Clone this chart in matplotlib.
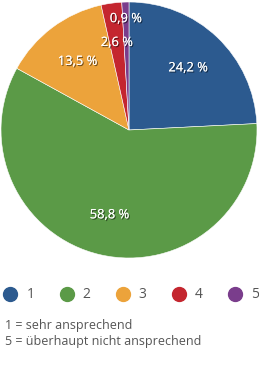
import matplotlib
matplotlib.use("Agg")
import numpy as np
import matplotlib.pyplot as plt
import matplotlib.patheffects as pe
from matplotlib.lines import Line2D

CATEGORIES = ["1", "2", "3", "4", "5"]
SHARES = [24.2, 58.8, 13.5, 2.6, 0.9]
LABELS = ["24,2 %", "58,8 %", "13,5 %", "2,6 %", "0,9 %"]
COLORS = ["#2c5a8f", "#5b9a47", "#eca33b", "#c4262f", "#7a3d8c"]
LABEL_DIST = [0.67, 0.68, 0.67, 0.69, 0.87]
NOTES = ["1 = sehr ansprechend", "5 = überhaupt nicht ansprechend"]

plt.rcParams["font.family"] = ["Open Sans", "DejaVu Sans"]

W, H = 259, 366
fig = plt.figure(figsize=(W / 100, H / 100), dpi=100)
ax = fig.add_axes([1 / W, 1 - 258 / H, 256 / W, 256 / H])

wedges, _ = ax.pie(SHARES, colors=COLORS, startangle=90, counterclock=False,
                   wedgeprops=dict(edgecolor="white", linewidth=0.4))
ax.set_xlim(-1, 1)
ax.set_ylim(-1, 1)
ax.set_aspect("equal")
ax.axis("off")

shadow = [pe.withSimplePatchShadow(offset=(0.8, -0.8), shadow_rgbFace="black", alpha=0.6),
          pe.Normal()]
for w, lab, d in zip(wedges, LABELS, LABEL_DIST):
    ang = np.deg2rad((w.theta1 + w.theta2) / 2)
    ax.text(d * np.cos(ang), d * np.sin(ang), lab, ha="center", va="center",
            color="white", fontsize=9.3, path_effects=shadow)

handles = [Line2D([], [], marker="o", linestyle="", markersize=10,
                  markerfacecolor=c, markeredgecolor=c) for c in COLORS]
fig.legend(handles, CATEGORIES, loc="center left", bbox_to_anchor=(-0.04, 1 - 295 / H),
           ncol=5, frameon=False, fontsize=10, handletextpad=0.55, columnspacing=1.72,
           labelcolor="#555555", handlelength=1.2)

fig.text(5 / W, 1 - 325 / H, NOTES[0], fontsize=9, color="#555555", va="center")
fig.text(5 / W, 1 - 341 / H, NOTES[1], fontsize=9, color="#555555", va="center")

fig.savefig("out.png", dpi=100)
